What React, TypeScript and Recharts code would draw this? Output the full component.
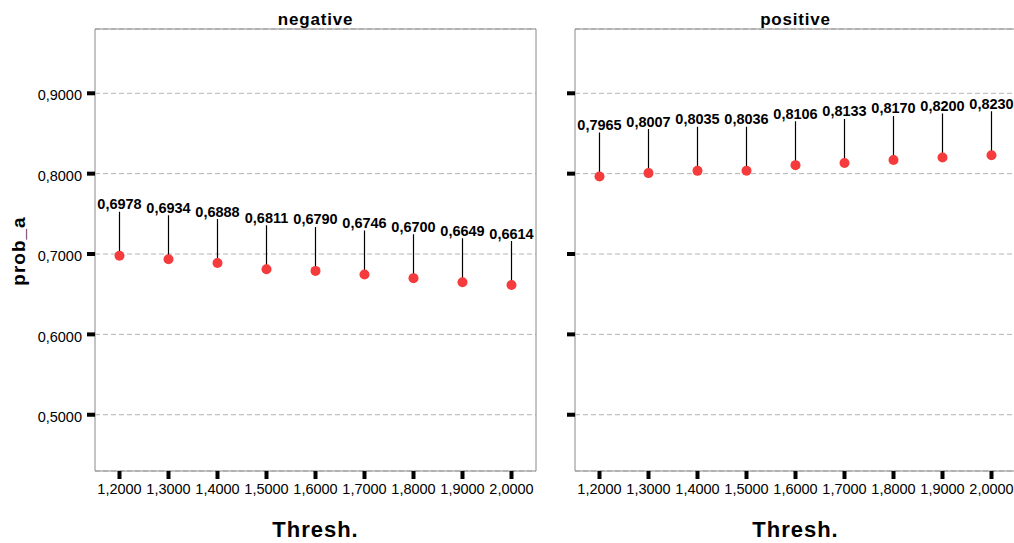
import React from 'react';
import { LineChart, Line, XAxis, YAxis, CartesianGrid } from 'recharts';

const categories = ['1,2000', '1,3000', '1,4000', '1,5000', '1,6000', '1,7000', '1,8000', '1,9000', '2,0000'];
const negativeValues = [0.6978, 0.6934, 0.6888, 0.6811, 0.679, 0.6746, 0.67, 0.6649, 0.6614];
const positiveValues = [0.7965, 0.8007, 0.8035, 0.8036, 0.8106, 0.8133, 0.817, 0.82, 0.823];
const yTicks = [0.5, 0.6, 0.7, 0.8, 0.9];
const yDomain = [0.43, 0.98];
const panelTitles = ['negative', 'positive'];
const xTitle = 'Thresh.';
const yTitle = 'prob_a';

const FONT = '"Liberation Sans", Arial, Helvetica, sans-serif';
const fmt = (v: number) => v.toFixed(4).replace('.', ',');

const buildData = (vals: number[]) => categories.map((c, i) => ({ cat: c, value: vals[i] }));

const Marker = (props: any) => {
  const { cx, cy, value, index } = props;
  if (cx == null || cy == null) return <g key={`m${index}`} />;
  return (
    <g key={`m${index}`}>
      <line x1={cx} y1={cy} x2={cx} y2={cy - 44} stroke="#000" strokeWidth={1.2} />
      <circle cx={cx} cy={cy} r={5} fill="#f53b3b" />
      <text x={cx} y={cy - 46.5} textAnchor="middle" fontFamily={FONT} fontWeight="bold" fontSize={14.5} fill="#000">
        {fmt(value)}
      </text>
    </g>
  );
};

const Panel = ({ vals, title, showLabels, width, yWidth, marginRight }: any) => {
  const data = buildData(vals);
  return (
    <LineChart width={width} height={543} data={data} margin={{ top: 28, right: marginRight, bottom: 0, left: 0 }}>
      <XAxis
        xAxisId="top"
        dataKey="cat"
        orientation="top"
        height={1}
        padding={{ left: 24.5, right: 24.5 }}
        tick={false}
        tickLine={false}
        axisLine={{ stroke: '#8a8a8a', strokeWidth: 1 }}
        label={{
          content: (p: any) => {
            const vb = p.viewBox || {};
            return (
              <text x={vb.x + vb.width / 2} y={25} textAnchor="middle" fontFamily={FONT} fontWeight="bold" fontSize={17} letterSpacing={0.8} fill="#000">
                {title}
              </text>
            );
          },
        }}
      />
      <XAxis
        dataKey="cat"
        height={72}
        padding={{ left: 24.5, right: 24.5 }}
        interval={0}
        axisLine={{ stroke: '#8a8a8a', strokeWidth: 1 }}
        tickLine={{ stroke: '#000', strokeWidth: 4 }}
        tickSize={8}
        tickMargin={5}
        tick={{ fill: '#000', fontSize: 14.5, fontFamily: FONT }}
        label={{
          content: (p: any) => {
            const vb = p.viewBox || {};
            return (
              <text x={vb.x + vb.width / 2} y={537} textAnchor="middle" fontFamily={FONT} fontWeight="bold" fontSize={22} letterSpacing={1} fill="#000">
                {xTitle}
              </text>
            );
          },
        }}
      />
      <YAxis
        yAxisId="right"
        orientation="right"
        type="number"
        domain={yDomain}
        width={1}
        tick={false}
        tickLine={false}
        axisLine={{ stroke: '#8a8a8a', strokeWidth: 1 }}
      />
      <YAxis
        type="number"
        domain={yDomain}
        ticks={yTicks}
        width={yWidth}
        allowDataOverflow
        axisLine={{ stroke: '#8a8a8a', strokeWidth: 1 }}
        tickLine={{ stroke: '#000', strokeWidth: 4 }}
        tickSize={8}
        tickMargin={5}
        tickFormatter={(v: number) => (showLabels ? fmt(v) : '')}
        tick={{ fill: '#000', fontSize: 14.5, fontFamily: FONT, dy: 2 }}
        label={
          showLabels
            ? {
                content: () => (
                  <text transform="translate(25,251) rotate(-90)" x={0} y={0} textAnchor="middle" fontFamily={FONT} fontWeight="bold" fontSize={19} letterSpacing={1} fill="#000">
                    {yTitle}
                  </text>
                ),
              }
            : undefined
        }
      />
      <CartesianGrid vertical={false} stroke="#b4b4b4" strokeDasharray="5 3" yAxisId={0} xAxisId={0} />
      <Line dataKey="value" stroke="none" isAnimationActive={false} dot={Marker} activeDot={false} />
      <Line dataKey="value" xAxisId="top" yAxisId="right" stroke="none" isAnimationActive={false} dot={false} activeDot={false} legendType="none" />
    </LineChart>
  );
};

export default function App() {
  return (
    <div style={{ position: 'absolute', left: 0, top: 0, width: 1014, height: 543, overflow: 'hidden', background: '#fff' }}>
      <div style={{ position: 'absolute', left: 0, top: 0 }}>
        <Panel vals={negativeValues} title={panelTitles[0]} showLabels width={546} yWidth={95} marginRight={9} />
      </div>
      <div style={{ position: 'absolute', left: 545, top: 0 }}>
        <Panel vals={positiveValues} title={panelTitles[1]} showLabels={false} width={472} yWidth={30} marginRight={0} />
      </div>
    </div>
  );
}
